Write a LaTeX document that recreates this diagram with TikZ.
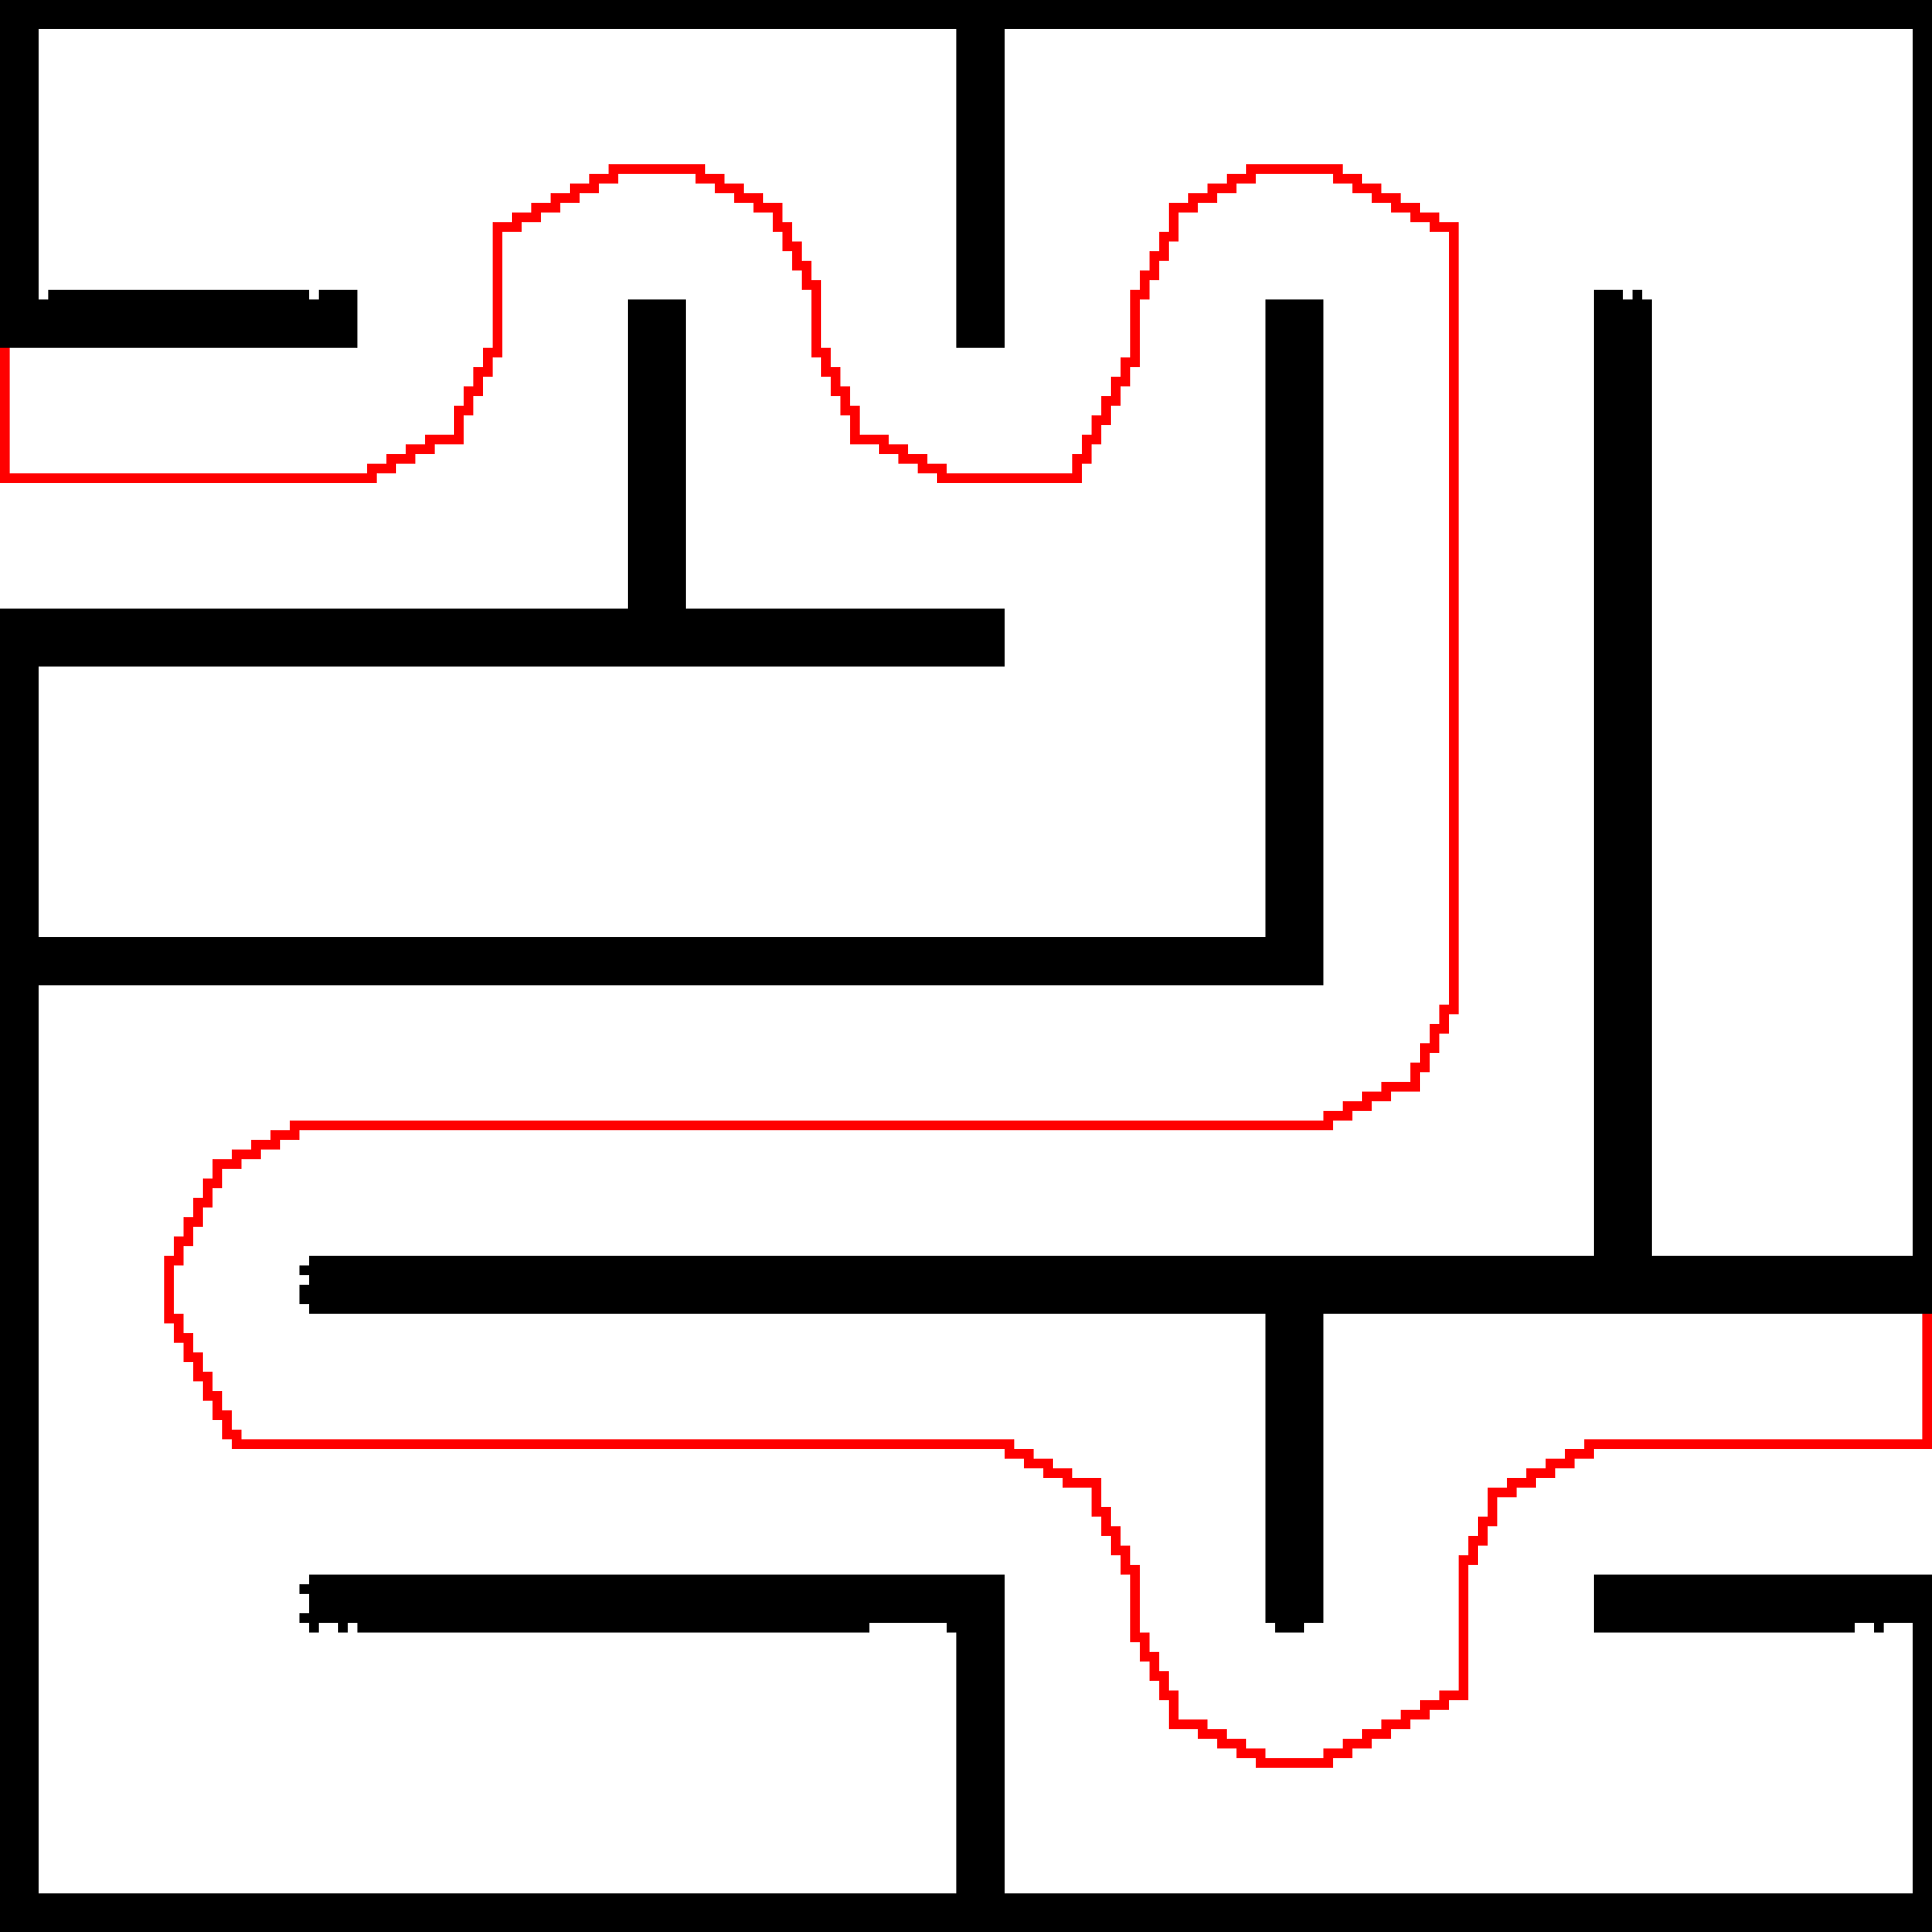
\documentclass[tikz,border=0pt]{standalone}
\begin{document}
\begin{tikzpicture}[x=0.1cm,y=-0.1cm,
  wall/.style={fill=black},
  route/.style={draw=red,line width=1mm,line cap=rect,line join=miter}]
\fill[white] (0,0) rectangle (200,200);
\useasboundingbox (0,0) rectangle (200,200);
% borders
\fill[wall] (0,0) rectangle (200,3);
\fill[wall] (0,0) rectangle (4,36);
\fill[wall] (0,63) rectangle (4,200);
\fill[wall] (198,0) rectangle (200,136);
\fill[wall] (198,163) rectangle (200,200);
\fill[wall] (0,196) rectangle (200,200);
% wall 1
\fill[wall] (0,31) rectangle (37,36);
\fill[wall] (5,30) rectangle (32,31);
\fill[wall] (33,30) rectangle (37,31);
% wall 2
\fill[wall] (99,3) rectangle (104,36);
% wall 3
\fill[wall] (65,31) rectangle (71,63);
% wall 4
\fill[wall] (0,63) rectangle (104,69);
% wall 5
\fill[wall] (131,31) rectangle (137,102);
% wall 6
\fill[wall] (0,97) rectangle (137,102);
% wall 7
\fill[wall] (165,31) rectangle (171,130);
\fill[wall] (165,30) rectangle (168,31);
\fill[wall] (169,30) rectangle (170,31);
% wall 8
\fill[wall] (32,130) rectangle (200,136);
\fill[wall] (31,131) rectangle (32,132);
\fill[wall] (31,133) rectangle (32,135);
% wall 9
\fill[wall] (131,136) rectangle (137,168);
\fill[wall] (132,168) rectangle (135,169);
% wall 10
\fill[wall] (32,163) rectangle (104,168);
\fill[wall] (31,164) rectangle (32,165);
\fill[wall] (31,167) rectangle (32,168);
\fill[wall] (32,168) rectangle (33,169);
\fill[wall] (35,168) rectangle (36,169);
\fill[wall] (37,168) rectangle (90,169);
\fill[wall] (98,168) rectangle (104,169);
% wall 11
\fill[wall] (99,163) rectangle (104,196);
% wall 12
\fill[wall] (165,163) rectangle (200,168);
\fill[wall] (165,168) rectangle (192,169);
\fill[wall] (194,168) rectangle (195,169);
% route
\begin{scope}[shift={(0.5,0.5)}]
\draw[route] (0,36) -- (0,49) -- (38,49) -- (38,48) -- (40,48) -- (40,47) -- (42,47) -- (42,46) -- (44,46) -- (44,45) -- (47,45) -- (47,42) -- (48,42) -- (48,40) -- (49,40) -- (49,38) -- (50,38) -- (50,36) -- (51,36) -- (51,23) -- (53,23) -- (53,22) -- (55,22) -- (55,21) -- (57,21) -- (57,20) -- (59,20) -- (59,19) -- (61,19) -- (61,18) -- (63,18) -- (63,17) -- (72,17) -- (72,18) -- (74,18) -- (74,19) -- (76,19) -- (76,20) -- (78,20) -- (78,21) -- (80,21) -- (80,23) -- (81,23) -- (81,25) -- (82,25) -- (82,27) -- (83,27) -- (83,29) -- (84,29) -- (84,36) -- (85,36) -- (85,38) -- (86,38) -- (86,40) -- (87,40) -- (87,42) -- (88,42) -- (88,45) -- (91,45) -- (91,46) -- (93,46) -- (93,47) -- (95,47) -- (95,48) -- (97,48) -- (97,49) -- (111,49) -- (111,47) -- (112,47) -- (112,45) -- (113,45) -- (113,43) -- (114,43) -- (114,41) -- (115,41) -- (115,39) -- (116,39) -- (116,37) -- (117,37) -- (117,30) -- (118,30) -- (118,28) -- (119,28) -- (119,26) -- (120,26) -- (120,24) -- (121,24) -- (121,21) -- (123,21) -- (123,20) -- (125,20) -- (125,19) -- (127,19) -- (127,18) -- (129,18) -- (129,17) -- (138,17) -- (138,18) -- (140,18) -- (140,19) -- (142,19) -- (142,20) -- (144,20) -- (144,21) -- (146,21) -- (146,22) -- (148,22) -- (148,23) -- (150,23) -- (150,104) -- (149,104) -- (149,106) -- (148,106) -- (148,108) -- (147,108) -- (147,110) -- (146,110) -- (146,112) -- (143,112) -- (143,113) -- (141,113) -- (141,114) -- (139,114) -- (139,115) -- (137,115) -- (137,116) -- (30,116) -- (30,117) -- (28,117) -- (28,118) -- (26,118) -- (26,119) -- (24,119) -- (24,120) -- (22,120) -- (22,122) -- (21,122) -- (21,124) -- (20,124) -- (20,126) -- (19,126) -- (19,128) -- (18,128) -- (18,130) -- (17,130) -- (17,136) -- (18,136) -- (18,138) -- (19,138) -- (19,140) -- (20,140) -- (20,142) -- (21,142) -- (21,144) -- (22,144) -- (22,146) -- (23,146) -- (23,148) -- (24,148) -- (24,149) -- (104,149) -- (104,150) -- (106,150) -- (106,151) -- (108,151) -- (108,152) -- (110,152) -- (110,153) -- (113,153) -- (113,156) -- (114,156) -- (114,158) -- (115,158) -- (115,160) -- (116,160) -- (116,162) -- (117,162) -- (117,169) -- (118,169) -- (118,171) -- (119,171) -- (119,173) -- (120,173) -- (120,175) -- (121,175) -- (121,178) -- (124,178) -- (124,179) -- (126,179) -- (126,180) -- (128,180) -- (128,181) -- (130,181) -- (130,182) -- (137,182) -- (137,181) -- (139,181) -- (139,180) -- (141,180) -- (141,179) -- (143,179) -- (143,178) -- (145,178) -- (145,177) -- (147,177) -- (147,176) -- (149,176) -- (149,175) -- (151,175) -- (151,161) -- (152,161) -- (152,159) -- (153,159) -- (153,157) -- (154,157) -- (154,154) -- (156,154) -- (156,153) -- (158,153) -- (158,152) -- (160,152) -- (160,151) -- (162,151) -- (162,150) -- (164,150) -- (164,149) -- (199,149) -- (199,136);
\end{scope}
\end{tikzpicture}
\end{document}
